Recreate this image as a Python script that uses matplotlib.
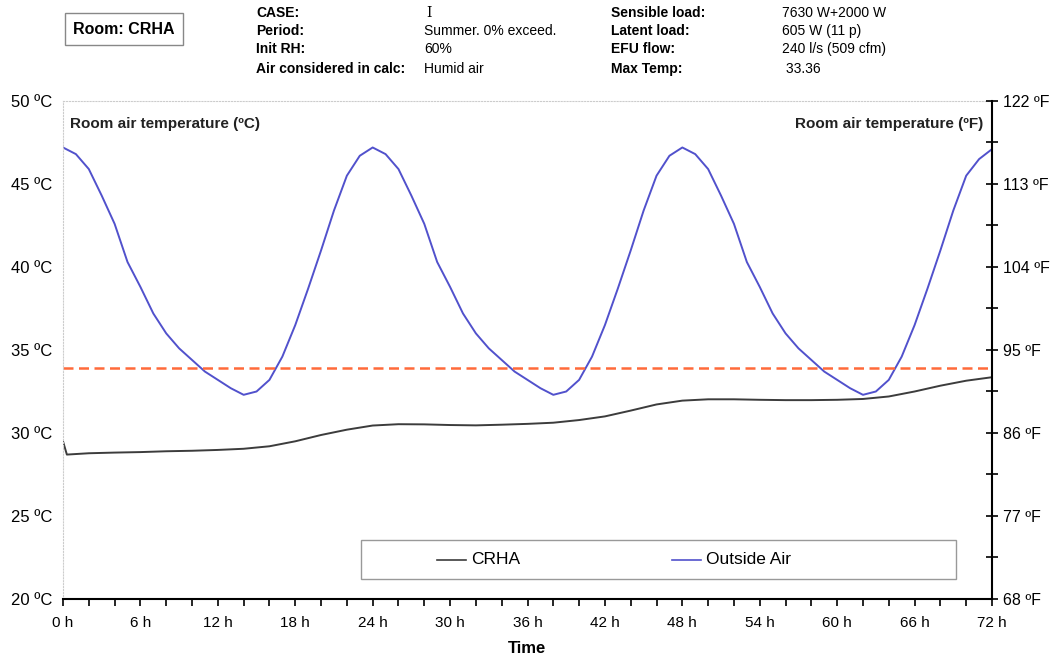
import matplotlib.pyplot as plt
from matplotlib.patches import Rectangle
from matplotlib.lines import Line2D
from matplotlib.ticker import MultipleLocator, FixedLocator

plt.rcParams['font.family'] = ['Liberation Sans', 'DejaVu Sans']

# outside air temperature, hourly 0..72 h
hours = list(range(73))
outside_air = [47.2, 46.8, 45.9, 44.3, 42.6, 40.3, 38.8, 37.2, 36.0, 35.1, 34.4, 33.7,
               33.2, 32.7, 32.3, 32.5, 33.2, 34.6, 36.5, 38.7, 41.0, 43.4, 45.5, 46.7,
               47.2, 46.8, 45.9, 44.3, 42.6, 40.3, 38.8, 37.2, 36.0, 35.1, 34.4, 33.7,
               33.2, 32.7, 32.3, 32.5, 33.2, 34.6, 36.5, 38.7, 41.0, 43.4, 45.5, 46.7,
               47.2, 46.8, 45.9, 44.3, 42.6, 40.3, 38.8, 37.2, 36.0, 35.1, 34.4, 33.7,
               33.2, 32.7, 32.3, 32.5, 33.2, 34.6, 36.5, 38.7, 41.0, 43.4, 45.5, 46.5,
               47.1]

# room CRHA temperature
crha_hours = [0, 0.3, 2, 4, 6, 8, 10, 12, 14, 16, 18, 20, 22, 24, 26, 28, 30, 32, 34, 36,
              38, 40, 42, 44, 46, 48, 50, 52, 54, 56, 58, 60, 62, 64, 66, 68, 70, 72]
crha_temp = [29.5, 28.7, 28.78, 28.82, 28.85, 28.9, 28.93, 28.98, 29.05, 29.2, 29.5, 29.88,
             30.2, 30.45, 30.53, 30.52, 30.48, 30.46, 30.5, 30.55, 30.62, 30.78, 31.0, 31.35,
             31.72, 31.95, 32.03, 32.03, 32.0, 31.98, 31.98, 32.0, 32.05, 32.2, 32.5, 32.85,
             33.15, 33.36]

limit_temp = 33.9

header_labels = ["CASE:", "Period:", "Init RH:", "Air considered in calc:"]
header_values = ["I", "Summer. 0% exceed.", "60%", "Humid air"]
header_labels2 = ["Sensible load:", "Latent load:", "EFU flow:", "Max Temp:"]
header_values2 = ["7630 W+2000 W", "605 W (11 p)", "240 l/s (509 cfm)", " 33.36"]

W, H = 1054, 661
fig = plt.figure(figsize=(W / 100, H / 100), dpi=100)
ax = fig.add_axes([63 / W, 1 - 599 / H, (992 - 63) / W, (599 - 101) / H])

ax.plot(hours, outside_air, color='#5151cc', lw=1.4, label='Outside Air')
ax.plot(crha_hours, crha_temp, color='#3c3c3c', lw=1.4, label='CRHA')
ax.plot([0, 72], [limit_temp, limit_temp], color='#ff6a3a', lw=1.8, dashes=(4, 2.2))

ax.set_xlim(0, 72)
ax.set_ylim(20, 50)
ax.set_xticks(range(0, 73, 6))
ax.set_xticklabels([f"{h} h" for h in range(0, 73, 6)], fontsize=11)
ax.xaxis.set_minor_locator(MultipleLocator(2))
ax.set_yticks(range(20, 51, 5))
ax.set_yticklabels([f"{t} ºC" for t in range(20, 51, 5)], fontsize=12)
ax.tick_params(axis='y', length=0, pad=8)
ax.tick_params(axis='x', which='both', direction='out', length=5, width=1.2, pad=7)
ax.set_xlabel("Time", fontsize=12, fontweight='bold', labelpad=8)

for s in ['left', 'top']:
    ax.spines[s].set_color('#cccccc')
    ax.spines[s].set_linestyle(':')
ax.spines['right'].set_visible(False)
ax.spines['bottom'].set_linewidth(1.5)

ax2 = ax.twinx()
ax2.set_ylim(68, 122)
f_ticks = list(range(68, 123, 9))
ax2.set_yticks(f_ticks)
ax2.set_yticklabels([f"{t} ºF" for t in f_ticks], fontsize=11.5)
ax2.yaxis.set_minor_locator(FixedLocator([t + 4.5 for t in f_ticks[:-1]]))
ax2.tick_params(axis='y', which='both', direction='inout', length=8, width=1.2, pad=4)
for s in ['left', 'top', 'bottom']:
    ax2.spines[s].set_visible(False)
ax2.spines['right'].set_linewidth(1.5)

ax.text(7 / 929, 1 - 23 / 498, "Room air temperature (ºC)", transform=ax.transAxes,
        fontsize=11, fontweight='bold', va='center', ha='left', color='#222222')
ax.text(1 - 9 / 929, 1 - 23 / 498, "Room air temperature (ºF)", transform=ax.transAxes,
        fontsize=11, fontweight='bold', va='center', ha='right', color='#222222')

# legend box
lx0, lx1, ly0, ly1 = 361, 956, 540, 579
ax.add_patch(Rectangle(((lx0 - 63) / 929, (599 - ly1) / 498), (lx1 - lx0) / 929,
                       (ly1 - ly0) / 498, transform=ax.transAxes, fill=False,
                       edgecolor='#999999', lw=1))
ly = (599 - 560) / 498
ax.add_line(Line2D([(437 - 63) / 929, (466 - 63) / 929], [ly, ly], transform=ax.transAxes,
                   color='#3c3c3c', lw=1.2))
ax.text((471 - 63) / 929, ly, "CRHA", transform=ax.transAxes, fontsize=12.5, va='center')
ax.add_line(Line2D([(672 - 63) / 929, (701 - 63) / 929], [ly, ly], transform=ax.transAxes,
                   color='#5151cc', lw=1.2))
ax.text((706 - 63) / 929, ly, "Outside Air", transform=ax.transAxes, fontsize=12.5, va='center')

# header
fig.patches.append(Rectangle((65 / W, 1 - 45 / H), 118 / W, 32 / H, transform=fig.transFigure,
                             fill=False, edgecolor='#888888', lw=1))
fig.text(124 / W, 1 - 29 / H, "Room: CRHA", fontsize=11.5, fontweight='bold',
         ha='center', va='center')
rows_y = [13, 31, 49, 69]
for i, y in enumerate(rows_y):
    fig.text(256 / W, 1 - y / H, header_labels[i], fontsize=10, fontweight='bold', va='center')
    fig.text(611 / W, 1 - y / H, header_labels2[i], fontsize=10, fontweight='bold', va='center')
    fig.text(782 / W, 1 - y / H, header_values2[i], fontsize=10, va='center')
    if i == 0:
        fig.text(426 / W, 1 - y / H, header_values[i], fontsize=10, va='center',
                 family='DejaVu Serif')
    else:
        fig.text(424 / W, 1 - y / H, header_values[i], fontsize=10, va='center')

fig.savefig('out.png', dpi=100)
